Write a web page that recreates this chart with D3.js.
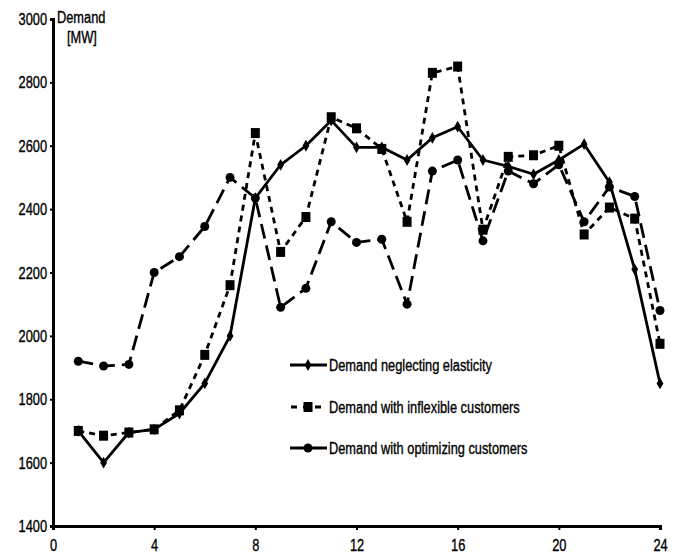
<!DOCTYPE html>
<html><head><meta charset="utf-8">
<script src="https://cdn.jsdelivr.net/npm/d3@7"></script>
<style>
html,body{margin:0;padding:0;background:#fff;}
svg text{font-family:"Liberation Sans Narrow","Arial Narrow","Liberation Sans",sans-serif;fill:#000;stroke:#000;stroke-width:0.35px;}
</style></head>
<body>
<svg id="chart" width="674" height="556"></svg>
<script>
const hours = d3.range(1, 25);
const xTicks = [0, 4, 8, 12, 16, 20, 24];
const yTicks = [1400, 1600, 1800, 2000, 2200, 2400, 2600, 2800, 3000];
const seriesNames = ["Demand neglecting elasticity", "Demand with inflexible customers", "Demand with optimizing customers"];
const neglecting = [1700,1600,1695,1705,1755,1850,2000,2435,2540,2600,2680,2595,2595,2555,2625,2660,2555,2535,2510,2555,2605,2485,2210,1850];
const inflexible = [1700,1685,1695,1705,1765,1940,2160,2640,2265,2375,2690,2655,2590,2360,2830,2850,2335,2565,2570,2600,2320,2405,2370,1975];
const optimizing = [1920,1905,1910,2200,2250,2345,2500,2435,2090,2150,2360,2295,2305,2100,2520,2555,2300,2520,2480,2540,2360,2470,2440,2080];

const svg = d3.select("#chart");
const x = d3.scaleLinear().domain([0, 24]).range([53, 660]);
const y = d3.scaleLinear().domain([1400, 3000]).range([526, 19]);

const series = [
  {name: seriesNames[0], values: neglecting, dash: null, marker: "diamond"},
  {name: seriesNames[1], values: inflexible, dash: "6,5", marker: "square"},
  {name: seriesNames[2], values: optimizing, dash: "15,7", marker: "circle"}
];

// axes
const yAxis = d3.axisLeft(y).tickValues(yTicks).tickSize(3).tickPadding(3).tickFormat(d3.format("d"));
const gy = svg.append("g").attr("transform", `translate(${x(0)},0)`).call(yAxis);
gy.select(".domain").attr("stroke", "#000").attr("stroke-width", 3);
gy.selectAll(".tick line").attr("stroke", "#000").attr("stroke-width", 2);
gy.selectAll(".tick text").style("font-size", "16px").attr("dy", "0.35em");

const xAxis = d3.axisBottom(x).tickValues(xTicks).tickSize(4).tickPadding(10);
const gx = svg.append("g").attr("transform", `translate(0,${y(1400)})`).call(xAxis);
gx.select(".domain").attr("stroke", "#000").attr("stroke-width", 3);
gx.selectAll(".tick line").attr("stroke", "#000").attr("stroke-width", 2);
gx.selectAll(".tick text").style("font-size", "16px");

// axis title
svg.append("text").attr("x", 57).attr("y", 23).style("font-size", "16px").text("Demand");
svg.append("text").attr("x", 67).attr("y", 43).style("font-size", "16px").text("[MW]");

const line = d3.line().x((d, i) => x(hours[i])).y(d => y(d));

function drawMarker(g, type, cx, cy) {
  if (type === "diamond") {
    g.append("path").attr("d", d3.symbol(d3.symbolDiamond, 40)()).attr("transform", `translate(${cx},${cy})`).attr("fill", "#000");
  } else if (type === "square") {
    g.append("rect").attr("x", cx - 4.5).attr("y", cy - 5).attr("width", 9).attr("height", 10).attr("fill", "#000");
  } else {
    g.append("circle").attr("cx", cx).attr("cy", cy).attr("r", 4.5).attr("fill", "#000");
  }
}

series.forEach(s => {
  svg.append("path").datum(s.values).attr("d", line)
    .attr("fill", "none").attr("stroke", "#000").attr("stroke-width", 2.8)
    .attr("stroke-dasharray", s.dash).attr("stroke-linejoin", "round");
  const g = svg.append("g");
  s.values.forEach((v, i) => drawMarker(g, s.marker, x(hours[i]), y(v)));
});

// legend
const legY = [365, 407, 448];
series.forEach((s, i) => {
  const g = svg.append("g");
  g.append("line").attr("x1", 290).attr("x2", 327).attr("y1", legY[i]).attr("y2", legY[i])
    .attr("stroke", "#000").attr("stroke-width", 2.8)
    .attr("stroke-dasharray", i === 1 ? "6,6" : null).attr("stroke-dashoffset", i === 1 ? -1 : 0);
  drawMarker(g, s.marker, 308, legY[i]);
  g.append("text").attr("x", 329).attr("y", legY[i]).attr("dy", "0.35em").style("font-size", "16px").text(s.name);
});

// condense text to emulate a narrow face
svg.selectAll("text").each(function() {
  const len = this.getComputedTextLength();
  d3.select(this).attr("textLength", len * 0.8).attr("lengthAdjust", "spacingAndGlyphs");
});
</script>
</body></html>
